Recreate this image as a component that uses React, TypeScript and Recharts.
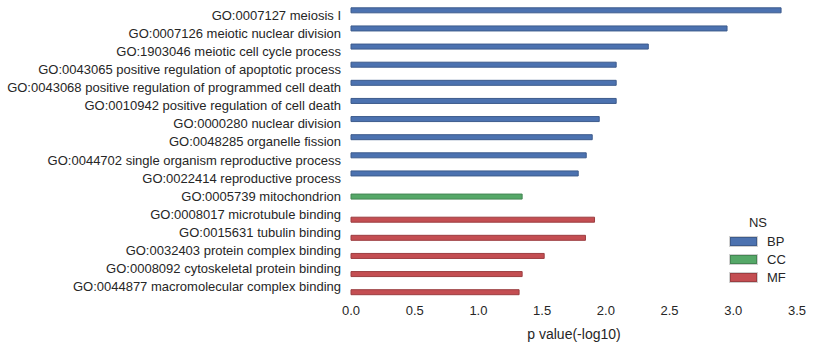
import React from 'react';
import { BarChart, Bar, XAxis, YAxis } from 'recharts';

const categories = [
  'GO:0007127 meiosis I',
  'GO:0007126 meiotic nuclear division',
  'GO:1903046 meiotic cell cycle process',
  'GO:0043065 positive regulation of apoptotic process',
  'GO:0043068 positive regulation of programmed cell death',
  'GO:0010942 positive regulation of cell death',
  'GO:0000280 nuclear division',
  'GO:0048285 organelle fission',
  'GO:0044702 single organism reproductive process',
  'GO:0022414 reproductive process',
  'GO:0005739 mitochondrion',
  'GO:0008017 microtubule binding',
  'GO:0015631 tubulin binding',
  'GO:0032403 protein complex binding',
  'GO:0008092 cytoskeletal protein binding',
  'GO:0044877 macromolecular complex binding',
];
const namespaces = ['BP', 'BP', 'BP', 'BP', 'BP', 'BP', 'BP', 'BP', 'BP', 'BP', 'CC', 'MF', 'MF', 'MF', 'MF', 'MF'];
const pValues = [3.375, 2.951, 2.333, 2.081, 2.081, 2.081, 1.948, 1.893, 1.846, 1.783, 1.343, 1.911, 1.84, 1.516, 1.343, 1.319];
const xTicks = [0, 0.5, 1, 1.5, 2, 2.5, 3, 3.5];
const seriesNames = ['BP', 'CC', 'MF'];
const seriesColors = ['#4C72B0', '#55A868', '#C44E52'];
const seriesEdges = ['#3d5b8c', '#448653', '#9c3e41'];

const data = categories.map((name, i) => {
  const row: any = { name };
  seriesNames.forEach((s) => {
    row[s] = namespaces[i] === s ? pValues[i] : null;
  });
  return row;
});

const FONT = 'Liberation Sans, Arial, sans-serif';
const TEXT = '#262626';

const YTick = (props: any) => {
  const { x, y, payload } = props;
  return (
    <text x={x} y={y} dy={4.5} textAnchor="end" fill={TEXT} fontSize={13} fontFamily={FONT}>
      {payload.value}
    </text>
  );
};

const LegendBox = () => (
  <div style={{ position: 'absolute', left: 730, top: 214, fontFamily: FONT, fontSize: 13, color: TEXT, width: 80 }}>
    <div style={{ width: 56, textAlign: 'center', height: 18, lineHeight: '18px' }}>NS</div>
    {seriesNames.map((s, i) => (
      <div key={s} style={{ display: 'flex', alignItems: 'center', height: 18 }}>
        <div
          style={{
            width: 25,
            height: 7,
            background: seriesColors[i],
            border: `1px solid ${seriesEdges[i]}`,
            boxShadow: '0 0 0 1px #d0d0d0',
          }}
        />
        <span style={{ marginLeft: 10 }}>{s}</span>
      </div>
    ))}
  </div>
);

export default function App() {
  return (
    <div style={{ position: 'absolute', left: 0, top: 0, width: 813, height: 345, background: '#fff' }}>
      <BarChart
        width={813}
        height={345}
        data={data}
        layout="vertical"
        margin={{ top: 6, right: 16, bottom: 0, left: 0 }}
        barCategoryGap="10%"
        barGap={0}
      >
        <XAxis
          type="number"
          domain={[0, 3.5]}
          ticks={xTicks}
          tickFormatter={(v: number) => v.toFixed(1)}
          axisLine={false}
          tickLine={false}
          tickSize={0}
          tickMargin={10}
          height={49}
          tick={{ fill: TEXT, fontSize: 13, fontFamily: FONT }}
          label={{ value: 'p value(-log10)', position: 'insideBottom', offset: 6, fill: TEXT, fontSize: 14, fontFamily: FONT }}
        />
        <YAxis
          type="category"
          dataKey="name"
          width={351}
          axisLine={false}
          tickLine={false}
          tickSize={0}
          tickMargin={10}
          interval={0}
          tick={<YTick />}
        />
        {seriesNames.map((s, i) => (
          <Bar
            key={s}
            dataKey={s}
            fill={seriesColors[i]}
            stroke={seriesEdges[i]}
            strokeWidth={1}
            isAnimationActive={false}
          />
        ))}
      </BarChart>
      <LegendBox />
    </div>
  );
}
